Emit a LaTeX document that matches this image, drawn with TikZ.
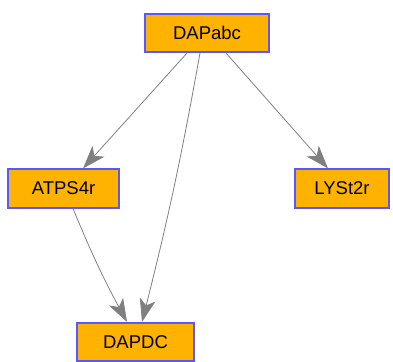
\documentclass[tikz,border=0pt]{standalone}
\usepackage{fontspec}
\setmainfont{Liberation Sans}
\usetikzlibrary{arrows.meta}
\definecolor{rxnfill}{RGB}{255,179,0}
\definecolor{rxnborder}{RGB}{88,88,255}
\definecolor{linkgray}{RGB}{128,128,128}
\begin{document}
\begin{tikzpicture}[x=1pt,y=-1pt,
    rxn/.style={rectangle,draw=rxnborder,fill=rxnfill,line width=1.6pt,inner sep=0pt,
      minimum height=38.5pt,font=\fontsize{18.5}{20}\selectfont},
    link/.style={draw=linkgray,line width=0.8pt,
      -{Stealth[length=23pt,width=16pt,inset=6pt]}}]
  \useasboundingbox (0,0) rectangle (393,361);
  \begin{scope}[every node/.style={rxn}]
    \node[minimum width=124.5pt] (DAPabc) at (207,33) {DAPabc};
    \node[minimum width=111.5pt] (ATPS4r) at (63.5,188.5) {ATPS4r};
    \node[minimum width=94.5pt] (LYSt2r) at (342,188.5) {LYSt2r};
    \node[minimum width=117.5pt] (DAPDC) at (135.5,342) {DAPDC};
  \end{scope}
  \begin{scope}[every edge/.style={link}]
    \path ([xshift=-20pt]DAPabc.south) edge ([xshift=19.5pt]ATPS4r.north);
    \path ([xshift=19pt]DAPabc.south) edge ([xshift=-14pt]LYSt2r.north);
    \path ([xshift=-7pt]DAPabc.south) edge[bend left=2] ([xshift=6.5pt]DAPDC.north);
    \path ([xshift=9.5pt]ATPS4r.south) edge[bend right=3] ([xshift=-8.5pt]DAPDC.north);
  \end{scope}
\end{tikzpicture}
\end{document}
